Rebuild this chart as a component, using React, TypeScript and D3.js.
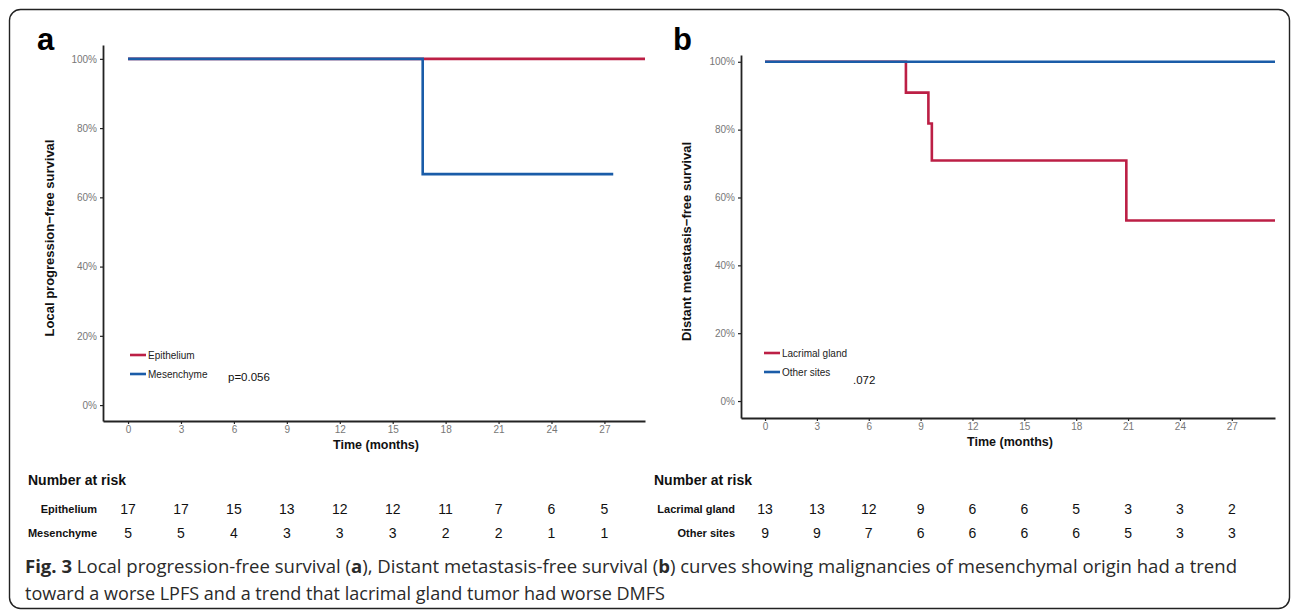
import React, { useEffect, useRef } from "react";
import * as d3 from "d3";

// shared ticks
const timeTicks = [0, 3, 6, 9, 12, 15, 18, 21, 24, 27];
const survTicks = [0, 0.2, 0.4, 0.6, 0.8, 1];

// panel a: Kaplan-Meier steps [time, survival]
const epitheliumCurve = [[0, 1], [29.3, 1]];
const mesenchymeCurve = [[0, 1], [16.7, 0.667], [27.5, 0.667]];
const epitheliumRisk = [17, 17, 15, 13, 12, 12, 11, 7, 6, 5];
const mesenchymeRisk = [5, 5, 4, 3, 3, 3, 2, 2, 1, 1];

// panel b
const lacrimalCurve = [[0, 1], [8.15, 0.909], [9.45, 0.818], [9.65, 0.709], [20.9, 0.532], [29.5, 0.532]];
const otherSitesCurve = [[0, 1], [29.5, 1]];
const lacrimalRisk = [13, 13, 12, 9, 6, 6, 5, 3, 3, 2];
const otherSitesRisk = [9, 9, 7, 6, 6, 6, 6, 5, 3, 3];

const RED = "#BC1F45";
const BLUE = "#1A5CA8";
const FONT = "'Liberation Sans', Arial, sans-serif";

function KMPanel({ box, letter, yLabel, series, legend, pText, pPos, risk }) {
  const gRef = useRef();

  useEffect(() => {
    const g = d3.select(gRef.current);
    g.selectAll("*").remove();

    const x = d3.scaleLinear().domain(box.xDomain).range([box.left, box.right]);
    const y = d3.scaleLinear().domain(box.yDomain).range([box.bottom, box.top]);

    const line = d3.line().x(d => x(d[0])).y(d => y(d[1])).curve(d3.curveStepAfter);

    // curves (first drawn underneath)
    g.selectAll(".curve")
      .data(series)
      .join("path")
      .attr("class", "curve")
      .attr("d", s => line(s.values))
      .attr("fill", "none")
      .attr("stroke", s => s.color)
      .attr("stroke-width", 2.6);

    // axes
    const xAxis = d3.axisBottom(x).tickValues(timeTicks).tickSize(3).tickPadding(2).tickSizeOuter(0);
    const xg = g.append("g").attr("transform", `translate(0,${box.bottom})`).call(xAxis);
    const yAxis = d3.axisLeft(y).tickValues(survTicks).tickFormat(d3.format(".0%")).tickSize(3).tickSizeOuter(0);
    const yg = g.append("g").attr("transform", `translate(${box.left},0)`).call(yAxis);

    [xg, yg].forEach(a => {
      a.select(".domain").attr("stroke", "#222").attr("stroke-width", 1.8);
      a.selectAll(".tick line").attr("stroke", "#222").attr("stroke-width", 1.2);
      a.selectAll(".tick text").attr("fill", "#777").attr("font-size", 10).attr("font-family", FONT);
    });

    // legend
    const lg = g.append("g");
    legend.forEach((l, i) => {
      const ly = box.legendY + i * 19;
      lg.append("line")
        .attr("x1", box.legendX).attr("x2", box.legendX + 16)
        .attr("y1", ly).attr("y2", ly)
        .attr("stroke", l.color).attr("stroke-width", 2.6);
      lg.append("text")
        .attr("x", box.legendX + 18).attr("y", ly + 3.5)
        .attr("font-size", 10).attr("font-family", FONT).attr("fill", "#222")
        .text(l.label);
    });
    g.append("text")
      .attr("x", pPos[0]).attr("y", pPos[1])
      .attr("font-size", 11.5).attr("font-family", FONT).attr("fill", "#111")
      .text(pText);

    // risk table numbers, aligned with time ticks
    risk.forEach(row => {
      g.selectAll(null)
        .data(row.values)
        .join("text")
        .attr("x", (d, j) => x(timeTicks[j]))
        .attr("y", row.y)
        .attr("text-anchor", "middle")
        .attr("font-size", 14)
        .attr("font-family", FONT)
        .attr("fill", "#111")
        .text(d => d);
    });
  }, [box, series, legend, pText, pPos, risk]);

  const midY = (box.top + box.bottom) / 2;
  return (
    <g fontFamily={FONT}>
      <text x={box.letterX} y={50} fontSize={31} fontWeight="bold" fill="#000">{letter}</text>
      <text transform={`translate(${box.yLabelX},${midY + 5}) rotate(-90)`} textAnchor="middle"
        fontSize={13} fontWeight="bold" fill="#111">{yLabel}</text>
      <text x={(box.left + box.right) / 2 + 2} y={box.bottom + 28} textAnchor="middle"
        fontSize={12.5} fontWeight="bold" fill="#111">Time (months)</text>
      <text x={box.riskTitleX} y={485} fontSize={14} fontWeight="bold" fill="#111">Number at risk</text>
      {risk.map(r => (
        <text key={r.label} x={box.riskLabelX} y={r.y - 1} textAnchor="end" fontSize={11}
          fontWeight="bold" fill="#111">{r.label}</text>
      ))}
      <g ref={gRef} />
    </g>
  );
}

const boxA = {
  left: 103, right: 645, top: 45, bottom: 421,
  xDomain: [-1.42, 29.3], yDomain: [-0.046, 1.04],
  letterX: 37, yLabelX: 54, legendX: 130, legendY: 355,
  riskTitleX: 28, riskLabelX: 97,
};
const boxB = {
  left: 741, right: 1275, top: 55, bottom: 418,
  xDomain: [-1.39, 29.5], yDomain: [-0.05, 1.02],
  letterX: 673, yLabelX: 691, legendX: 764, legendY: 353,
  riskTitleX: 654, riskLabelX: 735,
};

const seriesA = [
  { color: RED, values: epitheliumCurve },
  { color: BLUE, values: mesenchymeCurve },
];
const legendA = [{ label: "Epithelium", color: RED }, { label: "Mesenchyme", color: BLUE }];
const riskA = [
  { label: "Epithelium", values: epitheliumRisk, y: 514 },
  { label: "Mesenchyme", values: mesenchymeRisk, y: 538 },
];

const seriesB = [
  { color: RED, values: lacrimalCurve },
  { color: BLUE, values: otherSitesCurve },
];
const legendB = [{ label: "Lacrimal gland", color: RED }, { label: "Other sites", color: BLUE }];
const riskB = [
  { label: "Lacrimal gland", values: lacrimalRisk, y: 514 },
  { label: "Other sites", values: otherSitesRisk, y: 538 },
];

export default function App() {
  return (
    <svg width={1292} height={611} style={{ position: "absolute", left: 0, top: 0, background: "#fff" }}>
      <rect x={9.5} y={9.5} width={1280} height={599} rx={11} ry={11} fill="none" stroke="#222" strokeWidth={1.4} />
      <KMPanel box={boxA} letter="a" yLabel="Local progression−free survival" series={seriesA}
        legend={legendA} pText="p=0.056" pPos={[228, 381]} risk={riskA} />
      <KMPanel box={boxB} letter="b" yLabel="Distant metastasis−free survival" series={seriesB}
        legend={legendB} pText=".072" pPos={[853, 384]} risk={riskB} />
      <g fontFamily="'Open Sans', 'Noto Sans', sans-serif" fontSize={18} fill="#2a2a2a">
        <text x={25} y={573} textLength={1212} lengthAdjust="spacingAndGlyphs">
          <tspan fontWeight="bold">Fig. 3</tspan> Local progression-free survival (<tspan fontWeight="bold">a</tspan>), Distant metastasis-free survival (<tspan fontWeight="bold">b</tspan>) curves showing malignancies of mesenchymal origin had a trend
        </text>
        <text x={25} y={600} textLength={640} lengthAdjust="spacingAndGlyphs">
          toward a worse LPFS and a trend that lacrimal gland tumor had worse DMFS
        </text>
      </g>
    </svg>
  );
}
